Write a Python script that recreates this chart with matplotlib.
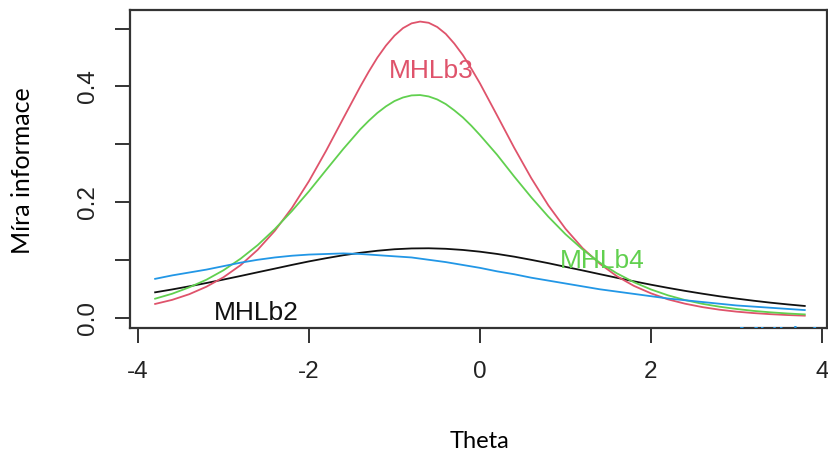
import matplotlib
matplotlib.use("Agg")
import matplotlib.pyplot as plt

# item information curves
theta = [-3.8, -3.6, -3.4, -3.2, -3.0, -2.8, -2.6, -2.4, -2.2, -2.0,
         -1.8, -1.6, -1.4, -1.2, -1.0, -0.8, -0.6, -0.4, -0.2, 0.0,
         0.2, 0.4, 0.6, 0.8, 1.0, 1.2, 1.4, 1.6, 1.8, 2.0,
         2.2, 2.4, 2.6, 2.8, 3.0, 3.2, 3.4, 3.6, 3.8]

# finer grid round the peaks of the two steep items
theta_fine = [-3.8, -3.6, -3.4, -3.2, -3.0, -2.8, -2.6, -2.4, -2.2, -2.0,
              -1.8, -1.6, -1.4, -1.3, -1.2, -1.1, -1.0, -0.9, -0.8, -0.7,
              -0.6, -0.5, -0.4, -0.3, -0.2, -0.1, 0.0,
              0.2, 0.4, 0.6, 0.8, 1.0, 1.2, 1.4, 1.6, 1.8, 2.0,
              2.2, 2.4, 2.6, 2.8, 3.0, 3.2, 3.4, 3.6, 3.8]

mhlb1 = [0.067, 0.073, 0.078, 0.083, 0.089, 0.095, 0.100, 0.104, 0.107, 0.109,
         0.110, 0.111, 0.110, 0.108, 0.106, 0.104, 0.100, 0.096, 0.091, 0.086,
         0.080, 0.075, 0.069, 0.064, 0.059, 0.054, 0.049, 0.045, 0.041, 0.037,
         0.033, 0.030, 0.027, 0.024, 0.021, 0.019, 0.017, 0.015, 0.013]

mhlb2 = [0.0437, 0.0487, 0.0541, 0.0598, 0.0658, 0.0720, 0.0784, 0.0847, 0.0911, 0.0972,
         0.1027, 0.1078, 0.1121, 0.1156, 0.1182, 0.1196, 0.1199, 0.1190, 0.1170, 0.1140,
         0.1101, 0.1054, 0.0999, 0.0941, 0.0878, 0.0816, 0.0752, 0.0689, 0.0628, 0.0569,
         0.0514, 0.0462, 0.0414, 0.0369, 0.0329, 0.0292, 0.0258, 0.0228, 0.0201]

mhlb3 = [0.0236, 0.0307, 0.0405, 0.0534, 0.0698, 0.0907, 0.1173, 0.1501, 0.1896, 0.2361,
         0.2885, 0.3443, 0.3996, 0.4256, 0.4497, 0.4704, 0.4876, 0.5007, 0.5089, 0.5120,
         0.5099, 0.5026, 0.4907, 0.4739, 0.4540, 0.4303, 0.4051,
         0.3498, 0.2939, 0.2413, 0.1941, 0.1538, 0.1202, 0.0934, 0.0717, 0.0549, 0.0420,
         0.0315, 0.0240, 0.0182, 0.0137, 0.0103, 0.0078, 0.0059, 0.0044, 0.0033]

mhlb4 = [0.0327, 0.0413, 0.0524, 0.0655, 0.0819, 0.1019, 0.1254, 0.1531, 0.1843, 0.2185,
         0.2552, 0.2915, 0.3256, 0.3405, 0.3540, 0.3653, 0.3745, 0.3807, 0.3843, 0.3849,
         0.3825, 0.3773, 0.3693, 0.3584, 0.3462, 0.3317, 0.3157,
         0.2817, 0.2441, 0.2081, 0.1745, 0.1443, 0.1180, 0.0952, 0.0767, 0.0613, 0.0487,
         0.0385, 0.0303, 0.0239, 0.0189, 0.0149, 0.0116, 0.0091, 0.0071, 0.0055]

x_ticks = [-4, -2, 0, 2, 4]
y_ticks = [0.0, 0.1, 0.2, 0.3, 0.4, 0.5]
y_tick_labels = ["0.0", "", "0.2", "", "0.4", ""]

BLACK = "#111111"
RED = "#DF536B"
GREEN = "#61D04F"
BLUE = "#2297E6"

fig = plt.figure(figsize=(8.29, 4.57), dpi=100)
ax = fig.add_axes([130 / 829, 1 - 328 / 457, 697 / 829, 318 / 457])

ax.plot(theta, mhlb2, color=BLACK, lw=1.3)
ax.plot(theta_fine, mhlb3, color=RED, lw=1.3)
ax.plot(theta_fine, mhlb4, color=GREEN, lw=1.3)
ax.plot(theta, mhlb1, color=BLUE, lw=1.3)

lab = dict(family="Liberation Sans", fontsize=19, ha="center", va="baseline")
ax.text(-2.62, -0.004, "MHLb2", color=BLACK, **lab)
ax.text(-0.57, 0.414, "MHLb3", color=RED, **lab)
ax.text(1.43, 0.086, "MHLb4", color=GREEN, **lab)
ax.text(3.51, -0.047, "MHLb1", color=BLUE, clip_on=True, **lab)

ax.set_xlim(-4.094, 4.06)
ax.set_ylim(-0.018, 0.532)
ax.set_xticks(x_ticks)
ax.set_xticklabels([str(v) for v in x_ticks])
ax.set_yticks(y_ticks)
ax.set_yticklabels(y_tick_labels)

for s in ax.spines.values():
    s.set_linewidth(1.6)
    s.set_color("#333333")

ax.tick_params(axis="both", length=11, width=1.4, color="#333333",
               labelsize=17.5, labelcolor="#222222")
ax.tick_params(axis="x", pad=13)
ax.tick_params(axis="y", pad=11)
for t in ax.get_xticklabels() + ax.get_yticklabels():
    t.set_family("Liberation Sans")
for t in ax.get_yticklabels():
    t.set_rotation(90)
    t.set_va("center")

fig.text(480 / 829, 1 - 441 / 457, "Theta", family="Lato", fontsize=17,
         ha="center", va="center")
fig.text(23 / 829, 1 - 171 / 457, "Míra informace", family="Lato", fontsize=18,
         ha="center", va="center", rotation=90)

fig.savefig("out.png", dpi=100)
